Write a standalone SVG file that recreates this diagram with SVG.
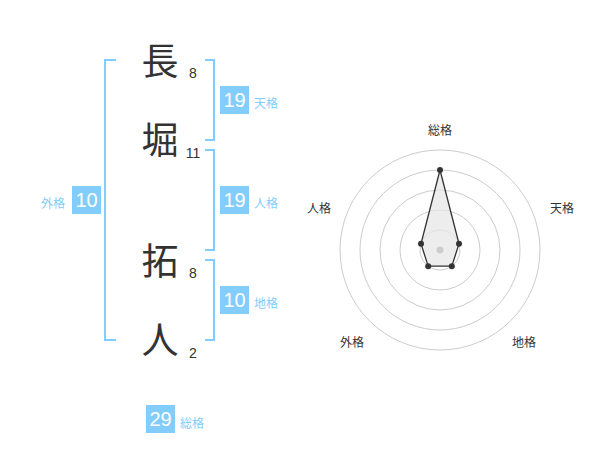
<svg xmlns="http://www.w3.org/2000/svg" width="600" height="470" viewBox="0 0 600 470">
<style>
.kanji{font-family:"Noto Sans CJK JP","Noto Sans CJK SC",sans-serif;font-size:37px;fill:#333;text-anchor:middle}
.num{font-family:"Liberation Sans",Arial,sans-serif;font-size:14px;fill:#333;text-anchor:middle}
.box{fill:#82cdfb}
.boxt{font-family:"Liberation Sans",Arial,sans-serif;font-size:20px;fill:#fff;text-anchor:middle}
.lab{font-family:"Noto Sans CJK JP",sans-serif;font-size:12px;fill:#82cdfb}
.br{fill:none;stroke:#82cdfb;stroke-width:2}
.ring{fill:none;stroke:#cccccc;stroke-width:1}
.rl{font-family:"Noto Sans CJK JP",sans-serif;font-size:12px;fill:#333;text-anchor:middle}
.pt{fill:#333}
</style>
<rect width="600" height="470" fill="#fff"/>
<g id="connectors">
<path class="br" d="M116,60 H105 V340 H116"/>
<path class="br" d="M205,60 H214 V140 H205"/>
<path class="br" d="M205,150 H214 V250 H205"/>
<path class="br" d="M205,260 H214 V340 H205"/>
</g>
<g id="char-1"><text class="kanji" x="160" y="75">長</text><text class="num" x="193" y="78">8</text></g>
<g id="char-2"><text class="kanji" x="160" y="154">堀</text><text class="num" x="193" y="158">11</text></g>
<g id="char-3"><text class="kanji" x="160" y="275">拓</text><text class="num" x="193" y="278">8</text></g>
<g id="char-4"><text class="kanji" x="160" y="354">人</text><text class="num" x="193" y="358">2</text></g>
<g id="tenkaku"><rect class="box" x="220" y="86" width="29" height="28"/><text class="boxt" x="234.5" y="107">19</text><text class="lab" x="254" y="108">天格</text></g>
<g id="jinkaku"><rect class="box" x="220" y="186" width="29" height="28"/><text class="boxt" x="234.5" y="207">19</text><text class="lab" x="254" y="208">人格</text></g>
<g id="chikaku"><rect class="box" x="220" y="286" width="29" height="28"/><text class="boxt" x="234.5" y="307">10</text><text class="lab" x="254" y="308">地格</text></g>
<g id="gaikaku"><rect class="box" x="72" y="186" width="29" height="28"/><text class="boxt" x="86.5" y="207">10</text><text class="lab" x="41" y="208">外格</text></g>
<g id="soukaku"><rect class="box" x="146" y="405" width="29" height="28"/><text class="boxt" x="160.5" y="426">29</text><text class="lab" x="180" y="428">総格</text></g>
<g id="radar">
<circle class="ring" cx="440" cy="250" r="20"/>
<circle class="ring" cx="440" cy="250" r="40"/>
<circle class="ring" cx="440" cy="250" r="60"/>
<circle class="ring" cx="440" cy="250" r="80"/>
<circle class="ring" cx="440" cy="250" r="100"/>
<polygon points="440,170 459,243.8 451.8,266.2 428.2,266.2 421,243.8" fill="#e6e6e6" fill-opacity="0.7" stroke="#333" stroke-width="1.3"/>
<circle cx="440" cy="250" r="3.5" fill="#cccccc"/>
<circle class="pt" cx="440" cy="170" r="3"/>
<circle class="pt" cx="459" cy="243.8" r="3"/>
<circle class="pt" cx="451.8" cy="266.2" r="3"/>
<circle class="pt" cx="428.2" cy="266.2" r="3"/>
<circle class="pt" cx="421" cy="243.8" r="3"/>
<text class="rl" x="440" y="135">総格</text>
<text class="rl" x="562" y="213">天格</text>
<text class="rl" x="524" y="347">地格</text>
<text class="rl" x="352" y="347">外格</text>
<text class="rl" x="319" y="213">人格</text>
</g>
</svg>
